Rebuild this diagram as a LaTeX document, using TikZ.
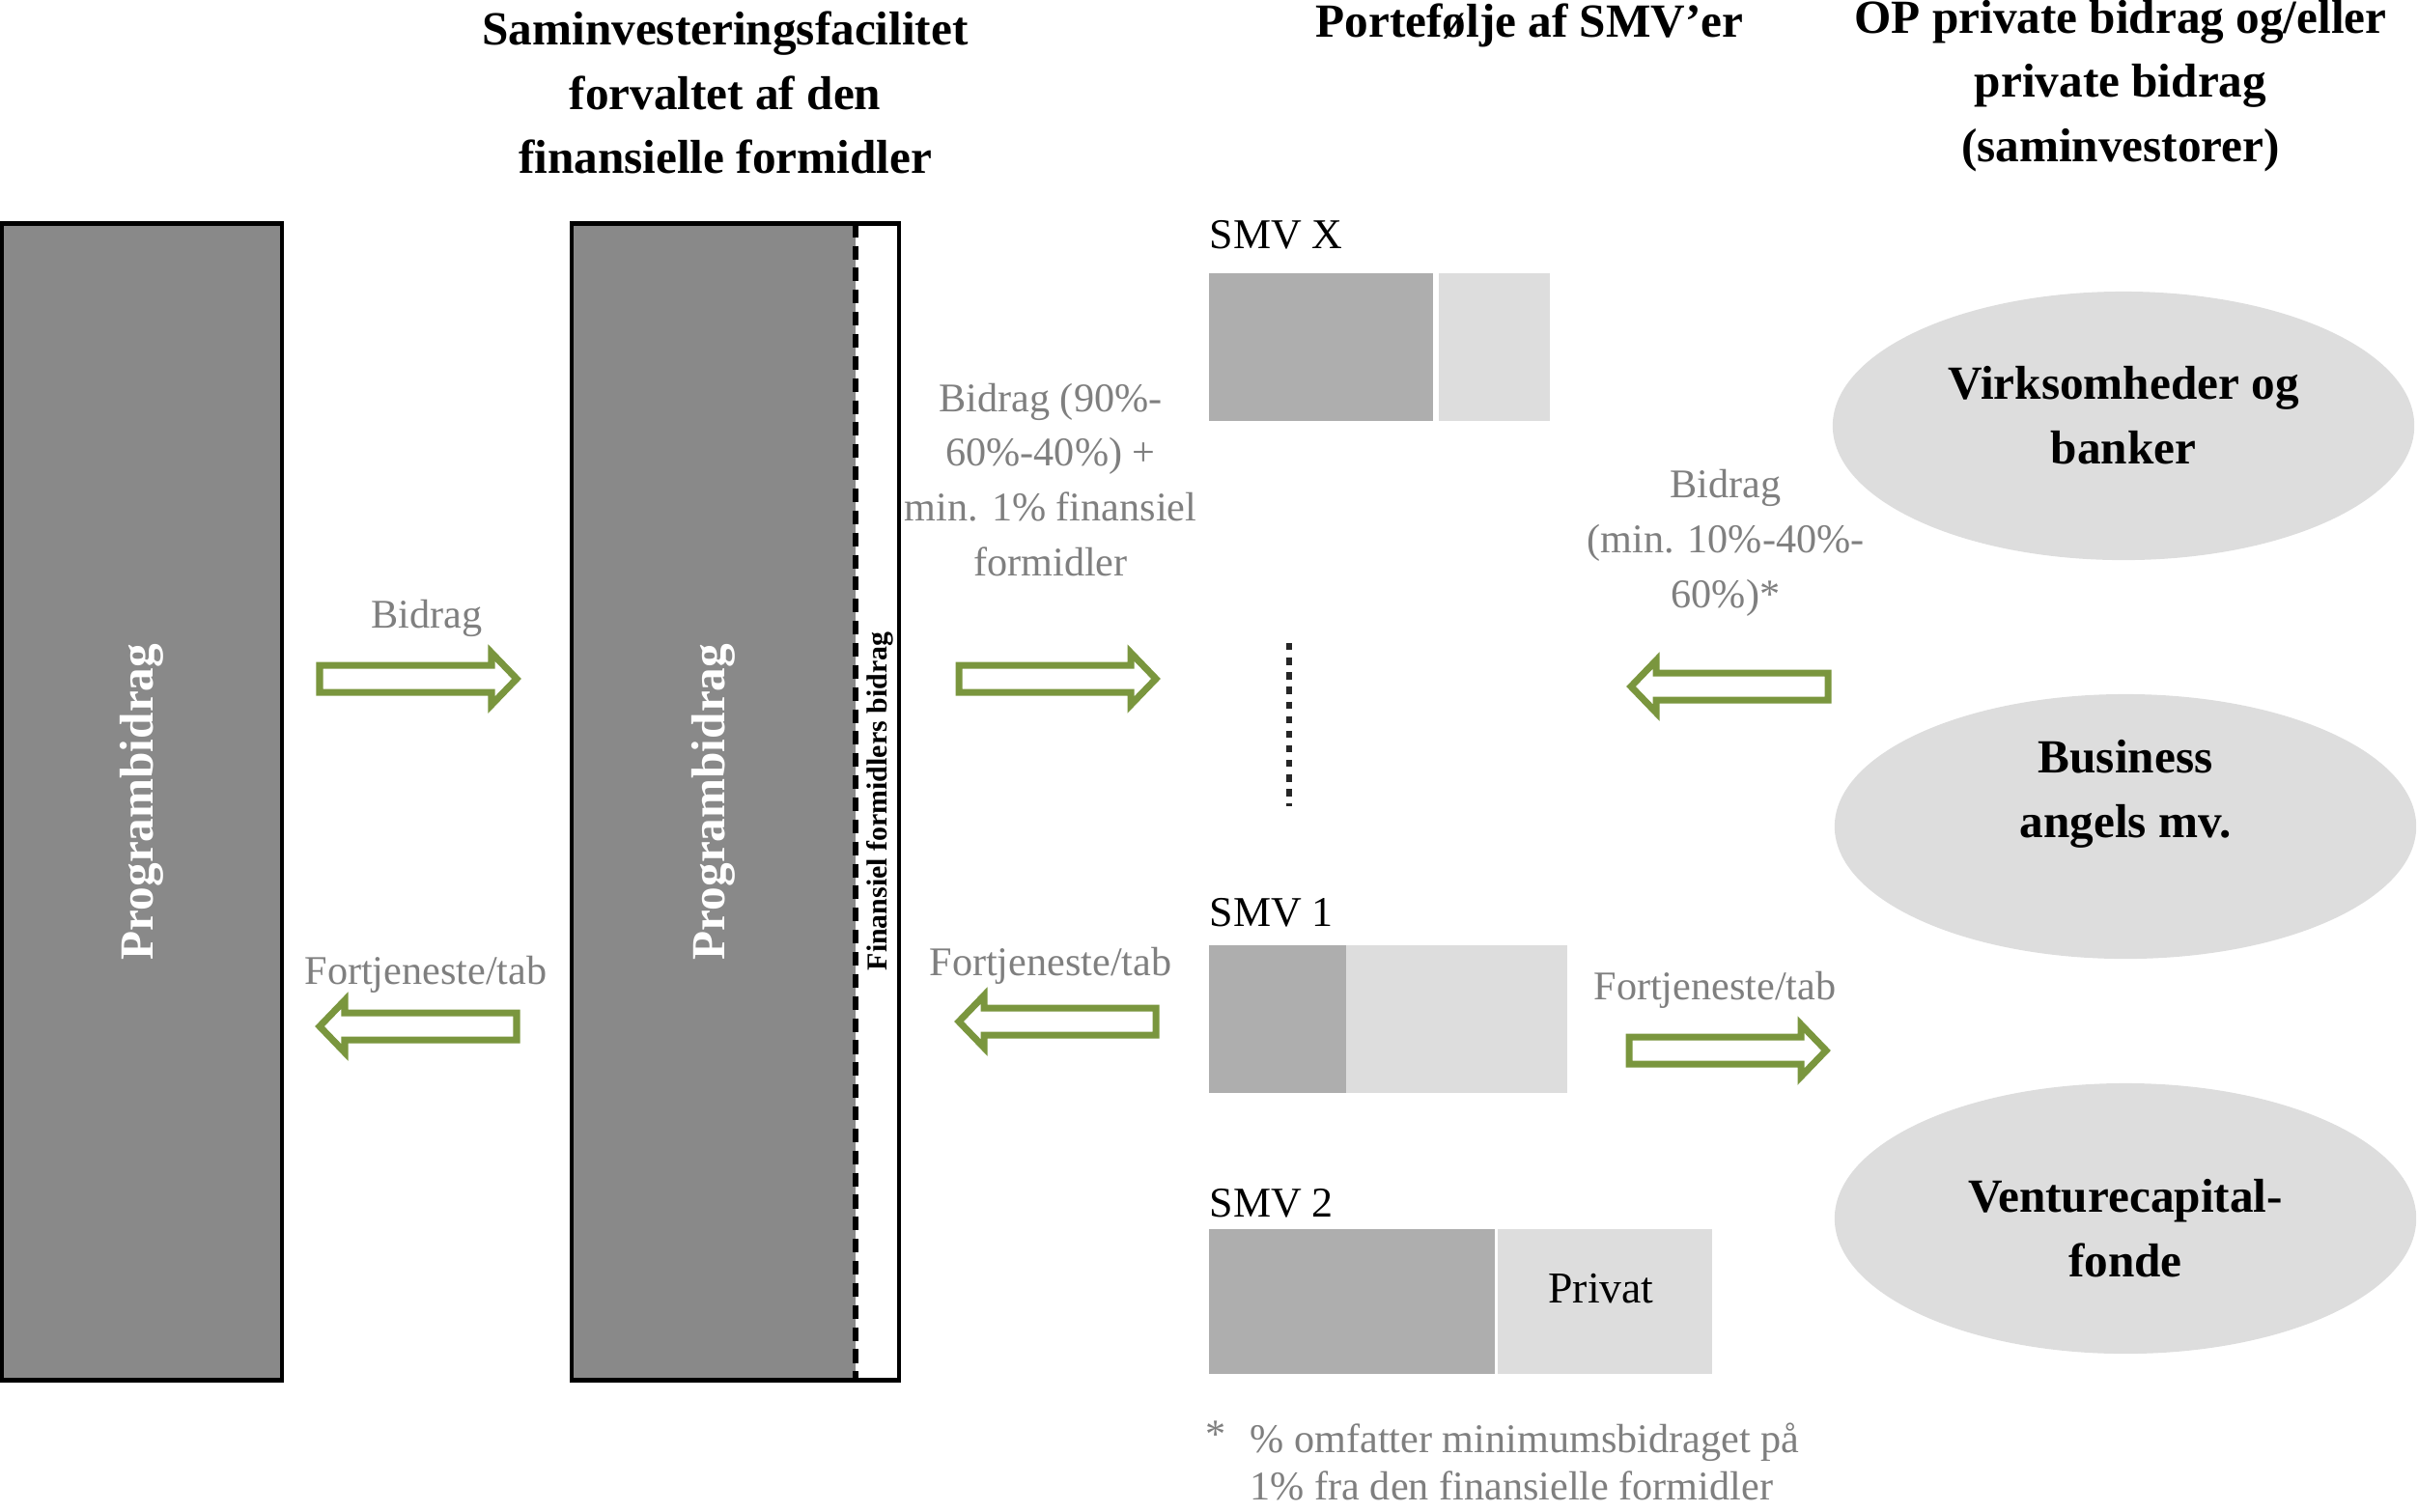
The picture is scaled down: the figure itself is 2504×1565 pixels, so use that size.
\documentclass[tikz,border=0pt]{standalone}
\usepackage{fontspec}
\setmainfont{Liberation Serif}
\usetikzlibrary{shapes.geometric}
\definecolor{bardark}{HTML}{898989}
\definecolor{smvdark}{HTML}{AEAEAE}
\definecolor{smvlight}{HTML}{DDDDDD}
\definecolor{ellfill}{HTML}{DDDDDD}
\definecolor{lbl}{HTML}{7F7F7F}
\definecolor{arrgreen}{RGB}{122,150,62}
\begin{document}
\begin{tikzpicture}[x=0.01cm,y=-0.01cm,
  title/.style={font=\fontsize{14}{19}\selectfont\bfseries, align=center, inner sep=0},
  glabel/.style={font=\fontsize{12}{16.2}\selectfont, text=lbl, align=center, inner sep=0},
  smvlabel/.style={font=\fontsize{12.5}{15}\selectfont, anchor=west, inner sep=0},
  bartext/.style={font=\fontsize{14}{17}\selectfont\bfseries, text=white, rotate=90, inner sep=0},
  striptext/.style={font=\fontsize{8.5}{10}\selectfont\bfseries, text=black, rotate=90, inner sep=0},
  blk/.style={rectangle, inner sep=0, outer sep=0},
  ent/.style={ellipse, fill=ellfill, minimum width=6.02cm, minimum height=2.78cm, inner sep=0},
  enttext/.style={font=\fontsize{14}{19}\selectfont\bfseries, align=center, inner sep=0},
  blockarr/.style={draw=arrgreen, fill=white, line width=2pt, line join=miter},
  dotline/.style={line width=1.8pt, dash pattern=on 2.1pt off 2.2pt, draw=black!85},
  rarrow/.pic={\draw[blockarr] (-102,-14) -- (76,-14) -- (76,-27) -- (102,0) -- (76,27) -- (76,14) -- (-102,14) -- cycle;},
  larrow/.pic={\draw[blockarr] (102,-14) -- (-76,-14) -- (-76,-27) -- (-102,0) -- (-76,27) -- (-76,14) -- (102,14) -- cycle;},
]
\useasboundingbox (0,0) rectangle (2504,1565);

% titles
\node[title] (t1) at (751,96) {Saminvesteringsfacilitet\\forvaltet af den\\finansielle formidler};
\node[title] (t2) at (1584,26) {Portefølje af SMV’er};
\node[title] (t3) at (2196,89) {OP private bidrag og/eller\\private bidrag\\(saminvestorer)};

% left bar
\node[blk, fill=bardark, draw=black, line width=1.3pt, minimum width=2.9cm, minimum height=11.97cm] (bar1) at (147,830.5) {};
\node[bartext] (pb1) at (bar1.center) {Programbidrag};

% middle bar
\node[blk, fill=bardark, minimum width=2.94cm, minimum height=11.97cm] (bar2g) at (739,830.5) {};
\node[blk, fill=white, minimum width=0.45cm, minimum height=11.97cm] (strip) at (908.5,830.5) {};
\draw[black, line width=1.5pt, dash pattern=on 4pt off 2.5pt] (bar2g.north east) -- (bar2g.south east);
\node[blk, draw=black, line width=1.3pt, minimum width=3.39cm, minimum height=11.97cm] (bar2) at (761.5,830.5) {};
\node[bartext] (pb2) at (bar2g.center) {Programbidrag};
\node[striptext] (fb) at (911,830) {Finansiel formidlers bidrag};

% arrows and labels, left
\node[glabel] (l1) at (442,640) {Bidrag};
\pic (a1) at (433,703) {rarrow};
\node[glabel] (l2) at (441,1009) {Fortjeneste/tab};
\pic (a2) at (433,1063) {larrow};

% arrows and labels, middle
\node[glabel] (l3) at (1088,497) {Bidrag (90\%-\\60\%-40\%) +\\min. 1\% finansiel\\formidler};
\pic (a3) at (1095,703) {rarrow};
\node[glabel] (l4) at (1088,1000) {Fortjeneste/tab};
\pic (a4) at (1095,1058) {larrow};

% SMV boxes
\node[smvlabel] (sx) at (1252,243) {SMV X};
\node[blk, fill=smvdark, minimum width=2.32cm, minimum height=1.53cm] (sxd) at (1368,359.5) {};
\node[blk, fill=smvlight, minimum width=1.15cm, minimum height=1.53cm] (sxl) at (1547.5,359.5) {};
\coordinate (dtop) at (1335,666);
\coordinate (dbot) at (1335,835);
\draw[dotline] (dtop) -- (dbot);

\node[smvlabel] (s1) at (1252,945) {SMV 1};
\node[blk, fill=smvdark, minimum width=1.42cm, minimum height=1.53cm] (s1d) at (1323,1055.5) {};
\node[blk, fill=smvlight, minimum width=2.29cm, minimum height=1.53cm] (s1l) at (1508.5,1055.5) {};

\node[smvlabel] (s2) at (1252,1246) {SMV 2};
\node[blk, fill=smvdark, minimum width=2.96cm, minimum height=1.5cm] (s2d) at (1400,1348) {};
\node[blk, fill=smvlight, minimum width=2.22cm, minimum height=1.5cm] (s2l) at (1662,1348) {};
\node[font=\fontsize{13}{15}\selectfont, inner sep=0] (priv) at (1658,1335) {Privat};

% footnote
\node[glabel, anchor=west] (star) at (1248,1486) {*};
\node[glabel, anchor=west, align=left, font=\fontsize{12}{13.8}\selectfont] (fn) at (1294,1514) {\% omfatter minimumsbidraget på\\1\% fra den finansielle formidler};

% right arrows and labels
\node[glabel] (l5) at (1787,562) {Bidrag\\(min. 10\%-40\%-\\60\%)*};
\pic (a5) at (1791,711) {larrow};
\node[glabel] (l6) at (1776,1025) {Fortjeneste/tab};
\pic (a6) at (1789,1088) {rarrow};

% ellipses
\node[ent] (e1) at (2199,441) {};
\node[enttext] (e1t) at (2199,430) {Virksomheder og\\banker};
\node[ent, minimum height=2.74cm] (e2) at (2201,856) {};
\node[enttext] (e2t) at (2201,822) {Business\\angels mv.};
\node[ent, minimum height=2.8cm] (e3) at (2201,1262) {};
\node[enttext] (e3t) at (2201,1272) {Venturecapital-\\fonde};
\end{tikzpicture}
\end{document}
